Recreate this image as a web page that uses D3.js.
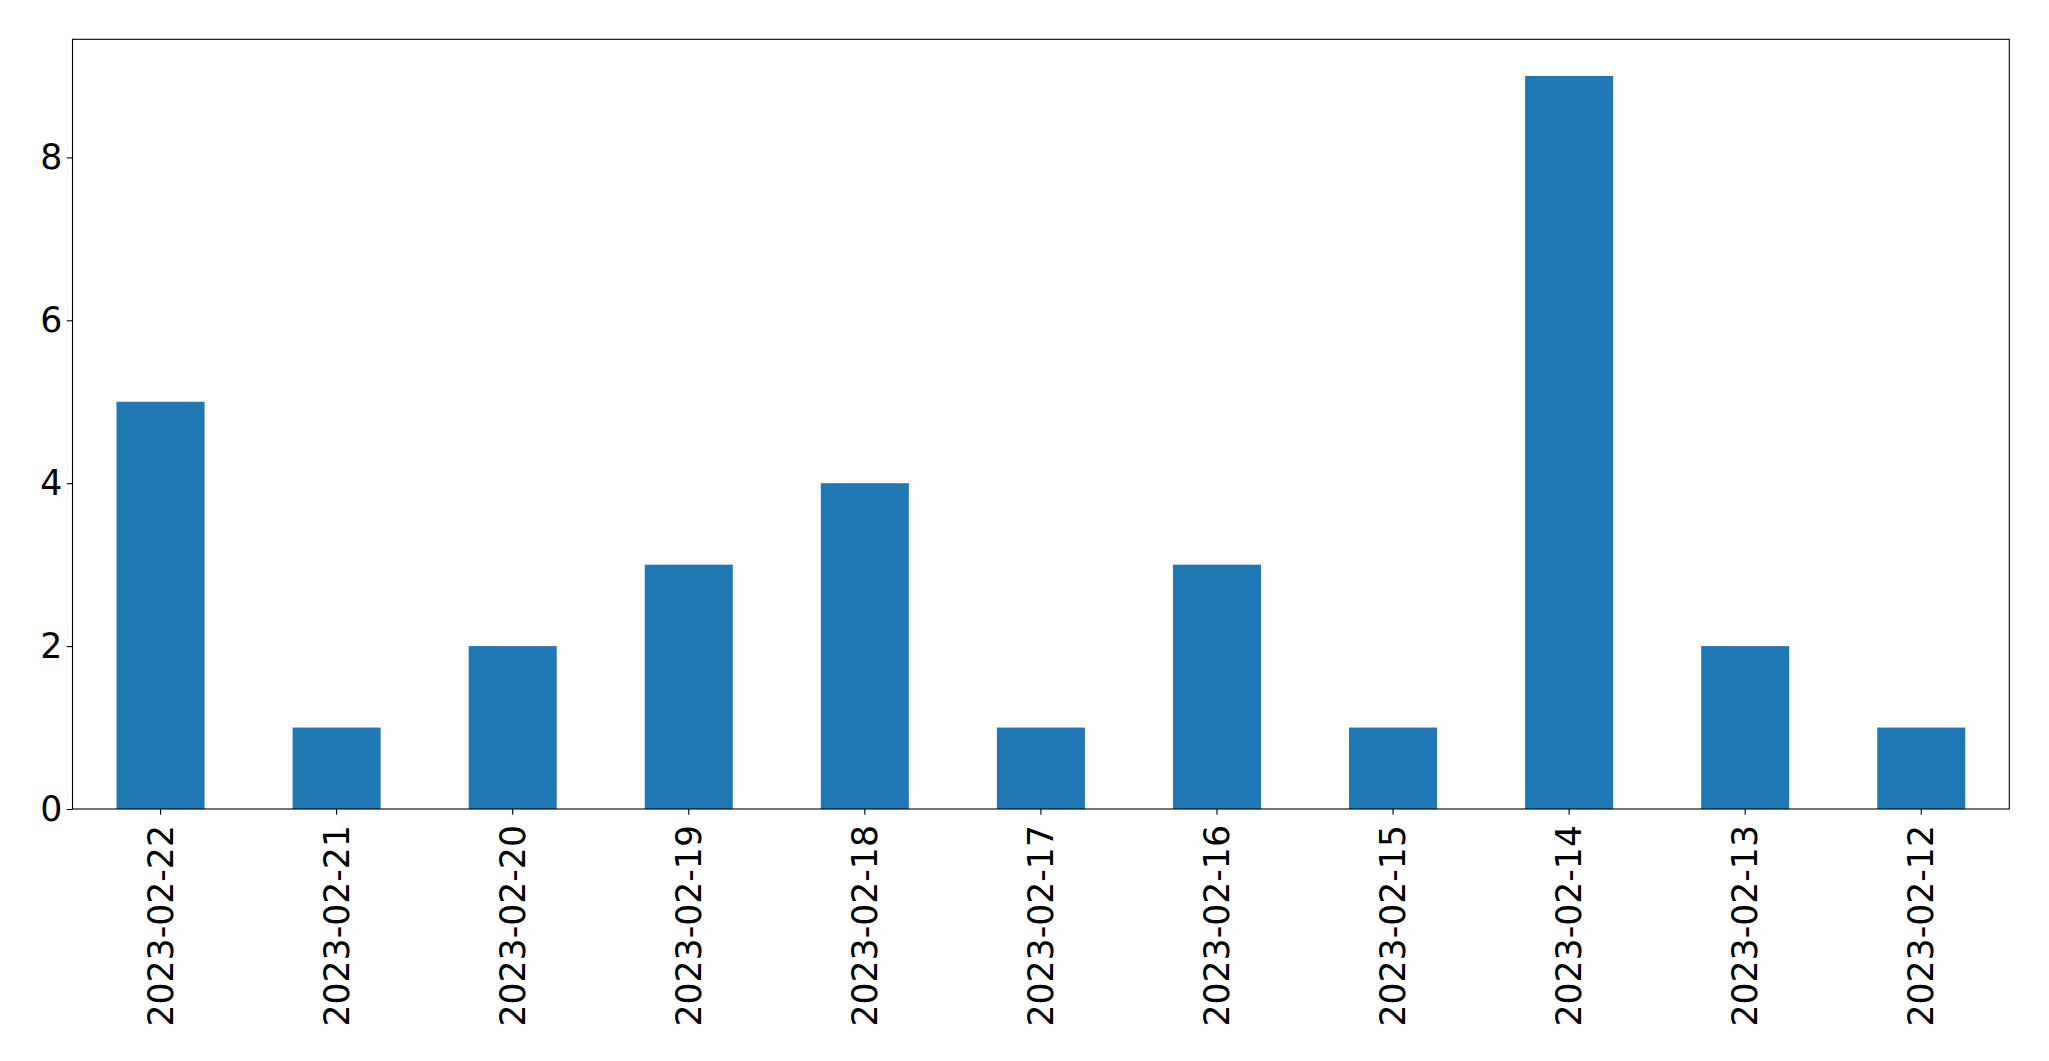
<!DOCTYPE html>
<html><head><meta charset="utf-8">
<script src="https://cdn.jsdelivr.net/npm/d3@7"></script>
<style>body{margin:0;background:#fff}svg{display:block}</style>
</head><body>
<svg id="c" width="2049" height="1061"></svg>
<script>
const categories = ["2023-02-22","2023-02-21","2023-02-20","2023-02-19","2023-02-18","2023-02-17","2023-02-16","2023-02-15","2023-02-14","2023-02-13","2023-02-12"];
const values = [5,1,2,3,4,1,3,1,9,2,1];
const yTicks = [0,2,4,6,8];

const W=2049,H=1061;
const m={left:72.5,right:2049-2009.3,top:39.3,bottom:1061-809};
const svg=d3.select("#c");
const x=d3.scaleBand().domain(categories).range([m.left,W-m.right]).paddingInner(0.5).paddingOuter(0.25);
const ymax=d3.max(values)*1.05;
const y=d3.scaleLinear().domain([0,ymax]).range([H-m.bottom,m.top]);
const font="DejaVu Sans";
const fs=34.7;
svg.append("g").selectAll("rect").data(values).join("rect")
 .attr("x",(d,i)=>x(categories[i])).attr("width",x.bandwidth())
 .attr("y",d=>y(d)).attr("height",d=>y(0)-y(d)).attr("fill","#1f77b4");

const ya=svg.append("g").attr("transform",`translate(${m.left},0)`)
 .call(d3.axisLeft(y).tickValues(yTicks).tickSize(5.8).tickPadding(4.5).tickFormat(d3.format("d")));
ya.select(".domain").remove();
ya.selectAll("text").attr("font-family",font).attr("font-size",fs).attr("fill","#000");
ya.selectAll("line").attr("stroke","#000").attr("stroke-width",1.1);

const xa=svg.append("g").attr("transform",`translate(0,${H-m.bottom})`)
 .call(d3.axisBottom(x).tickSize(5.8).tickPadding(0));
xa.select(".domain").remove();
xa.selectAll("line").attr("stroke","#000").attr("stroke-width",1.1);
xa.selectAll("text").attr("font-family",font).attr("font-size",fs).attr("fill","#000")
 .attr("transform","rotate(-90)").attr("text-anchor","end").attr("x",-16).attr("y",0).attr("dy","0.35em");

svg.append("rect").attr("x",m.left).attr("y",m.top).attr("width",W-m.right-m.left).attr("height",H-m.bottom-m.top)
 .attr("fill","none").attr("stroke","#000").attr("stroke-width",1.1);
</script>
</body></html>
